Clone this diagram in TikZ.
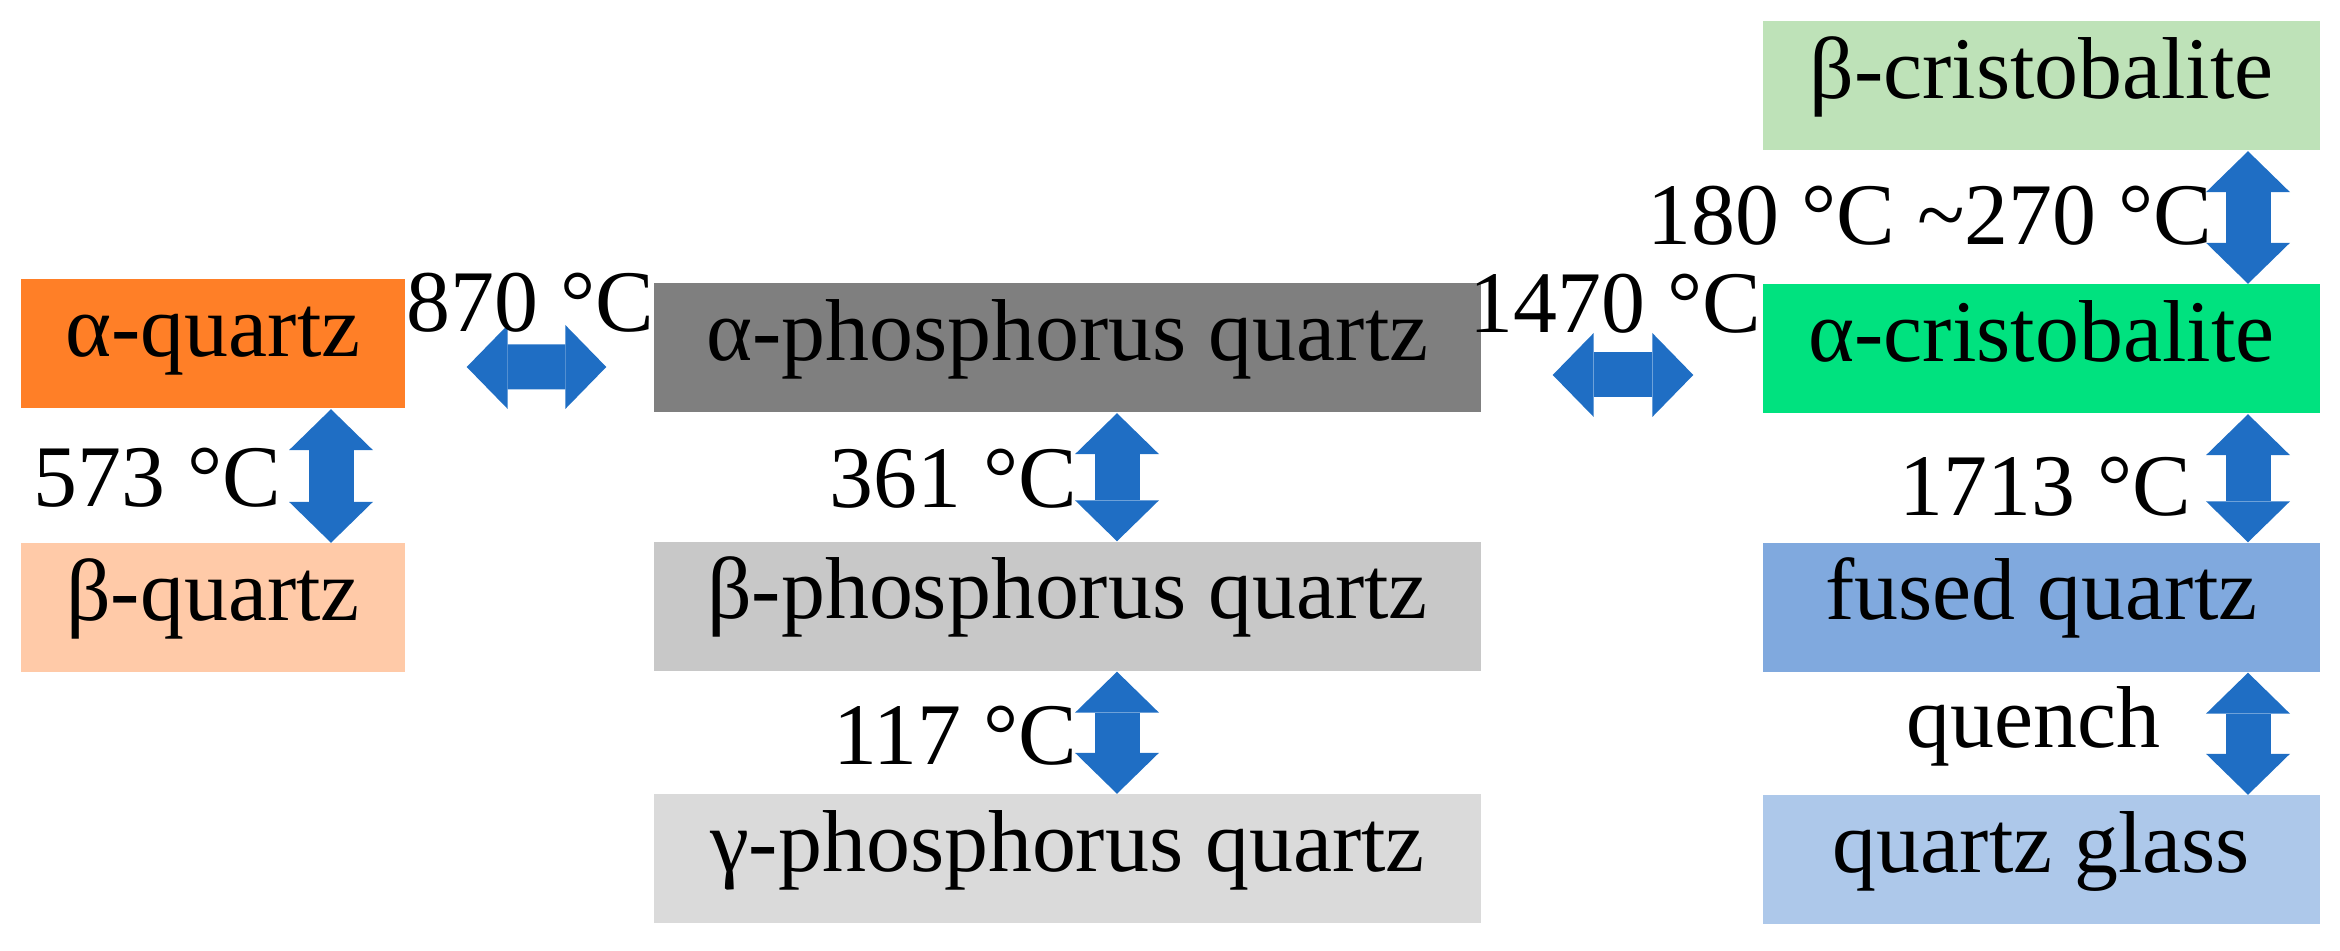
\documentclass[tikz,border=0pt]{standalone}
\usepackage{fontspec}
\setmainfont{Liberation Serif}
\usepackage{xcolor}
\usepackage{tikz}
\usetikzlibrary{arrows.meta}

\definecolor{aqorange}{HTML}{FF7F27}
\definecolor{bqpeach}{HTML}{FFCAA8}
\definecolor{apqgray}{HTML}{7F7F7F}
\definecolor{bpqgray}{HTML}{C8C8C8}
\definecolor{gpqgray}{HTML}{DADADA}
\definecolor{bcrgreen}{HTML}{BEE2B8}
\definecolor{acrgreen}{HTML}{00E27F}
\definecolor{fqblue}{HTML}{80A9DE}
\definecolor{qgblue}{HTML}{ADC8EA}
\definecolor{arrowblue}{HTML}{1F6EC4}

\begin{document}
\begin{tikzpicture}[
  every node/.style={font=\fontsize{25}{30}\selectfont},
  phase/.style={inner sep=0pt, minimum height=1.29cm, text height=0.9em, text depth=0.2em},
  temp/.style={anchor=base east, inner sep=0pt},
  blockarr/.style={draw=arrowblue, line width=0.45cm, <->,
    >={Triangle[length=0.41cm,width=0.84cm,line width=0pt]}}
]
\useasboundingbox (0,0) rectangle (23.40,-9.51);

\node[phase, minimum width=5.57cm, fill=bcrgreen] (bcr) at (20.415,-0.86) {β-cristobalite};
\node[phase, minimum width=3.84cm, fill=aqorange] (aq) at (2.13,-3.44) {α-quartz};
\node[phase, minimum width=8.27cm, fill=apqgray] (apq) at (10.675,-3.48) {α-phosphorus quartz};
\node[phase, minimum width=5.57cm, fill=acrgreen] (acr) at (20.415,-3.49) {α-cristobalite};
\node[phase, minimum width=3.84cm, fill=bqpeach] (bq) at (2.13,-6.08) {β-quartz};
\node[phase, minimum width=8.27cm, fill=bpqgray] (bpq) at (10.675,-6.065) {β-phosphorus quartz};
\node[phase, minimum width=5.57cm, fill=fqblue] (fq) at (20.415,-6.075) {fused quartz};
\node[phase, minimum width=8.27cm, fill=gpqgray] (gpq) at (10.675,-8.59) {γ-phosphorus quartz};
\node[phase, minimum width=5.57cm, fill=qgblue] (qg) at (20.415,-8.60) {quartz glass};

\draw[blockarr, shorten <=0.61cm, shorten >=0.47cm] ([yshift=-0.23cm]aq.east) -- ([yshift=-0.19cm]apq.west);
\draw[blockarr, shorten <=0.71cm, shorten >=0.69cm] ([yshift=-0.27cm]apq.east) -- ([yshift=-0.26cm]acr.west);
\draw[blockarr] ([xshift=1.18cm]aq.south) -- ([xshift=1.18cm]bq.north);
\draw[blockarr] ([xshift=0.495cm]apq.south) -- ([xshift=0.495cm]bpq.north);
\draw[blockarr] ([xshift=0.495cm]bpq.south) -- ([xshift=0.495cm]gpq.north);
\draw[blockarr] ([xshift=2.065cm]bcr.south) -- ([xshift=2.065cm]acr.north);
\draw[blockarr] ([xshift=2.065cm]acr.south) -- ([xshift=2.065cm]fq.north);
\draw[blockarr] ([xshift=2.065cm]fq.south) -- ([xshift=2.065cm]qg.north);

\node[temp] (t870) at (6.55,-3.32) {870 °C};
\node[temp] (t1470) at (17.62,-3.33) {1470 °C};
\node[temp] (t180) at (22.13,-2.45) {180 °C \textasciitilde270 °C};
\node[temp] (t573) at (2.82,-5.07) {573 °C};
\node[temp] (t361) at (10.78,-5.08) {361 °C};
\node[temp] (t117) at (10.78,-7.65) {117 °C};
\node[temp] (t1713) at (21.92,-5.16) {1713 °C};
\node[temp] (tq) at (21.61,-7.48) {quench};

\end{tikzpicture}
\end{document}
